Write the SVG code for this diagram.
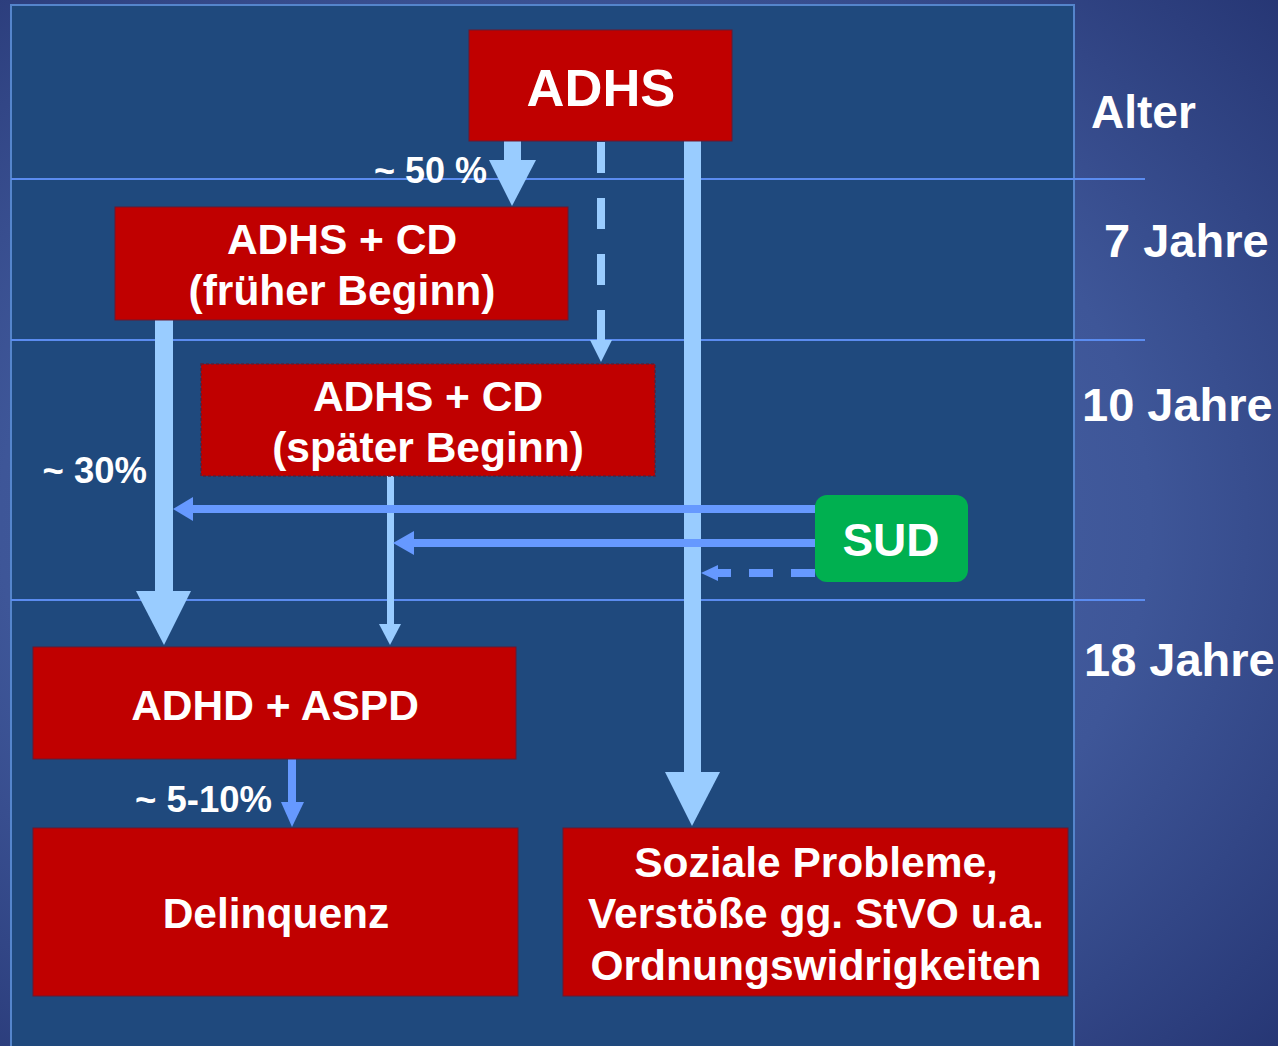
<svg xmlns="http://www.w3.org/2000/svg" width="1278" height="1046" viewBox="0 0 1278 1046">
<style>
.box{fill:#c00000;stroke:#6a1830;stroke-width:1}
.t{font-family:"Liberation Sans",Arial,sans-serif;font-weight:bold;fill:#ffffff}
.c{text-anchor:middle}
.grid{stroke:#5b8cf0;stroke-width:2}
</style>
<defs>
<radialGradient id="bg" cx="0.45" cy="0.5" r="0.75">
<stop offset="0" stop-color="#4e6db0"/>
<stop offset="0.6" stop-color="#3e5698"/>
<stop offset="1" stop-color="#263674"/>
</radialGradient>
</defs>
<rect x="0" y="0" width="1278" height="1046" fill="url(#bg)"/>
<rect x="11" y="5" width="1063" height="1050" fill="#1f497d" stroke="#5585cc" stroke-width="2"/>
<g id="gridlines">
<line class="grid" x1="11" y1="179" x2="1145" y2="179"/>
<line class="grid" x1="11" y1="340" x2="1145" y2="340"/>
<line class="grid" x1="11" y1="600" x2="1145" y2="600"/>
</g>
<g id="connectors">
<rect x="504" y="141" width="17" height="20" fill="#99ccff"/>
<polygon points="489,160 536,160 512,206" fill="#99ccff"/>
<line x1="601" y1="142" x2="601" y2="340" stroke="#99ccff" stroke-width="8" stroke-dasharray="31,25"/>
<polygon points="590,340 612,340 601,362" fill="#99ccff"/>
<rect x="684" y="141" width="17" height="632" fill="#99ccff"/>
<polygon points="665,772 720,772 692,826" fill="#99ccff"/>
<rect x="155" y="320" width="18" height="272" fill="#99ccff"/>
<polygon points="136,591 191,591 164,645" fill="#99ccff"/>
<rect x="387" y="476" width="7" height="150" fill="#99ccff"/>
<polygon points="379,624 401,624 390,645" fill="#99ccff"/>
<rect x="192" y="505" width="623" height="8" fill="#6699ff"/>
<polygon points="193,497 193,521 173,509" fill="#6699ff"/>
<rect x="412" y="539" width="403" height="8" fill="#6699ff"/>
<polygon points="414,531 414,555 393,543" fill="#6699ff"/>
<line x1="815" y1="573" x2="716" y2="573" stroke="#6699ff" stroke-width="8" stroke-dasharray="24,18"/>
<polygon points="718,565 718,581 701,573" fill="#6699ff"/>
<rect x="288" y="759" width="8" height="44" fill="#6699ff"/>
<polygon points="281,802 304,802 292,827" fill="#6699ff"/>
</g>
<g id="labels">
<text class="t" x="487" y="183" font-size="36" text-anchor="end">~ 50 %</text>
<text class="t" x="147" y="483" font-size="36.5" text-anchor="end">~ 30%</text>
<text class="t" x="272" y="812" font-size="36.5" text-anchor="end">~ 5-10%</text>
<text class="t" x="1091" y="128" font-size="46">Alter</text>
<text class="t" x="1104" y="257" font-size="47">7 Jahre</text>
<text class="t" x="1082" y="421" font-size="47">10 Jahre</text>
<text class="t" x="1084" y="676" font-size="47">18 Jahre</text>
</g>
<g id="adhs">
<rect class="box" x="469" y="30" width="263" height="111"/>
<text class="t c" x="601" y="106" font-size="52.5">ADHS</text>
</g>
<g id="cd-early">
<rect class="box" x="115" y="207" width="453" height="113"/>
<text class="t c" x="342" y="254" font-size="42.5">ADHS + CD</text>
<text class="t c" x="342" y="305" font-size="42.5">(früher Beginn)</text>
</g>
<g id="cd-late">
<rect x="201" y="364" width="454" height="112" fill="#c00000" stroke="#5a2038" stroke-width="1.5" stroke-dasharray="3,2"/>
<text class="t c" x="428" y="411" font-size="42.5">ADHS + CD</text>
<text class="t c" x="428" y="462" font-size="42.5">(später Beginn)</text>
</g>
<g id="sud">
<rect x="815" y="495" width="153" height="87" rx="12" fill="#00b050"/>
<text class="t c" x="891" y="556" font-size="46">SUD</text>
</g>
<g id="aspd">
<rect class="box" x="33" y="647" width="483" height="112"/>
<text class="t c" x="275" y="720" font-size="42.5">ADHD + ASPD</text>
</g>
<g id="delinquenz">
<rect class="box" x="33" y="828" width="485" height="168"/>
<text class="t c" x="276" y="928" font-size="42.5">Delinquenz</text>
</g>
<g id="soziale">
<rect class="box" x="563" y="828" width="505" height="168"/>
<text class="t c" x="816" y="877" font-size="42.5">Soziale Probleme,</text>
<text class="t c" x="816" y="928" font-size="42.5">Verstöße gg. StVO u.a.</text>
<text class="t c" x="816" y="980" font-size="42.5">Ordnungswidrigkeiten</text>
</g>
</svg>
